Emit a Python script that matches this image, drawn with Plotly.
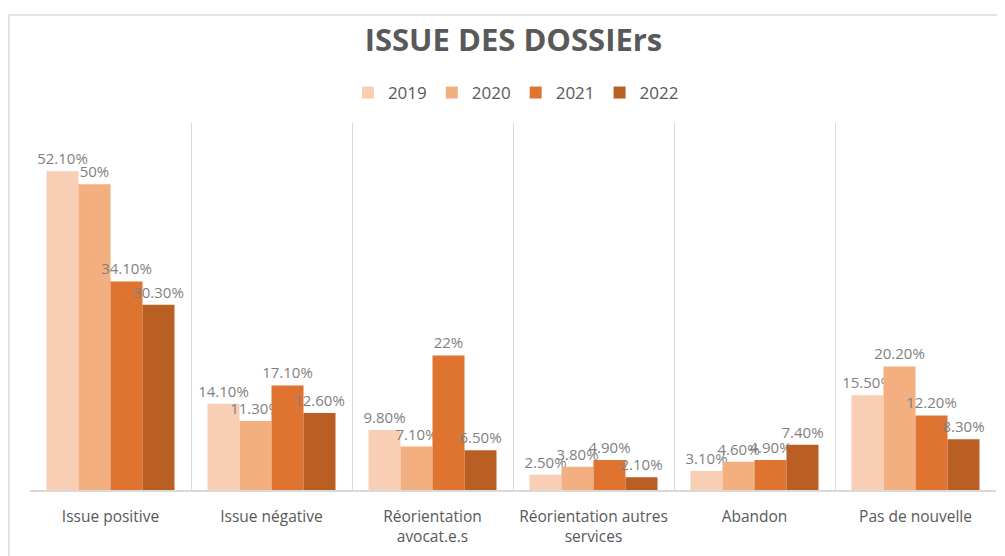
import plotly.graph_objects as go

categories = ["Issue positive", "Issue négative", "Réorientation<br>avocat.e.s",
              "Réorientation autres<br>services", "Abandon", "Pas de nouvelle"]
years = ["2019", "2020", "2021", "2022"]
v2019 = [52.1, 14.1, 9.8, 2.5, 3.1, 15.5]
v2020 = [50.0, 11.3, 7.1, 3.8, 4.6, 20.2]
v2021 = [34.1, 17.1, 22.0, 4.9, 4.9, 12.2]
v2022 = [30.3, 12.6, 6.5, 2.1, 7.4, 8.3]
series = [v2019, v2020, v2021, v2022]
colors = ["#F8CFB4", "#F3AF80", "#DF7430", "#B95F24"]


def fmt(v):
    return f"{v:.0f}%" if float(v).is_integer() else f"{v:.2f}%"


fig = go.Figure()
for name, vals, col in zip(years, series, colors):
    fig.add_trace(go.Bar(
        x=categories, y=vals, name=name, marker=dict(color=col, line=dict(width=0)),
        text=[fmt(v) for v in vals], textposition="outside", constraintext="none",
        textfont=dict(family="Open Sans", size=15, color="#7F7F7F"),
        cliponaxis=False,
    ))

# page body has an 8px margin: figure is offset by (8, 8)
W, H = 997, 548
L, R, T, B = 22, 9, 115, 66
ph = H - T - B
pw = W - L - R

fig.update_layout(
    width=W, height=H,
    margin=dict(l=L, r=R, t=T, b=B, autoexpand=False),
    paper_bgcolor="white", plot_bgcolor="white",
    barmode="group", bargap=0.205, bargroupgap=0,
    title=dict(text="<b>ISSUE DES DOSSIErs</b>", x=0.507, xanchor="center",
               y=1 - 32 / H, yanchor="middle",
               font=dict(family="Open Sans", size=31, color="#595959")),
    legend=dict(orientation="h", x=0.503, xanchor="center", y=1 + (T - 85) / ph, yanchor="middle",
                font=dict(family="Open Sans", size=17, color="#595959"),
                itemwidth=30, traceorder="normal"),
    xaxis=dict(tickson="boundaries", showgrid=True, gridcolor="#D9D9D9", gridwidth=1,
               showline=True, linecolor="#D9D9D9", linewidth=2, ticks="",
               range=[-0.5, 5.5], ticklabelstandoff=11,
               tickfont=dict(family="Open Sans", size=15.5, color="#595959")),
    yaxis=dict(range=[0, 60], showgrid=False, showticklabels=False, zeroline=False,
               showline=False),
    shapes=[dict(type="rect", xref="paper", yref="paper",
                 x0=(1 - L) / pw, x1=1.2, y0=-0.5, y1=1 + (T - 7) / ph,
                 line=dict(color="#E3E3E3", width=2), fillcolor="rgba(0,0,0,0)", layer="below")],
)

fig.write_html("out.html")
